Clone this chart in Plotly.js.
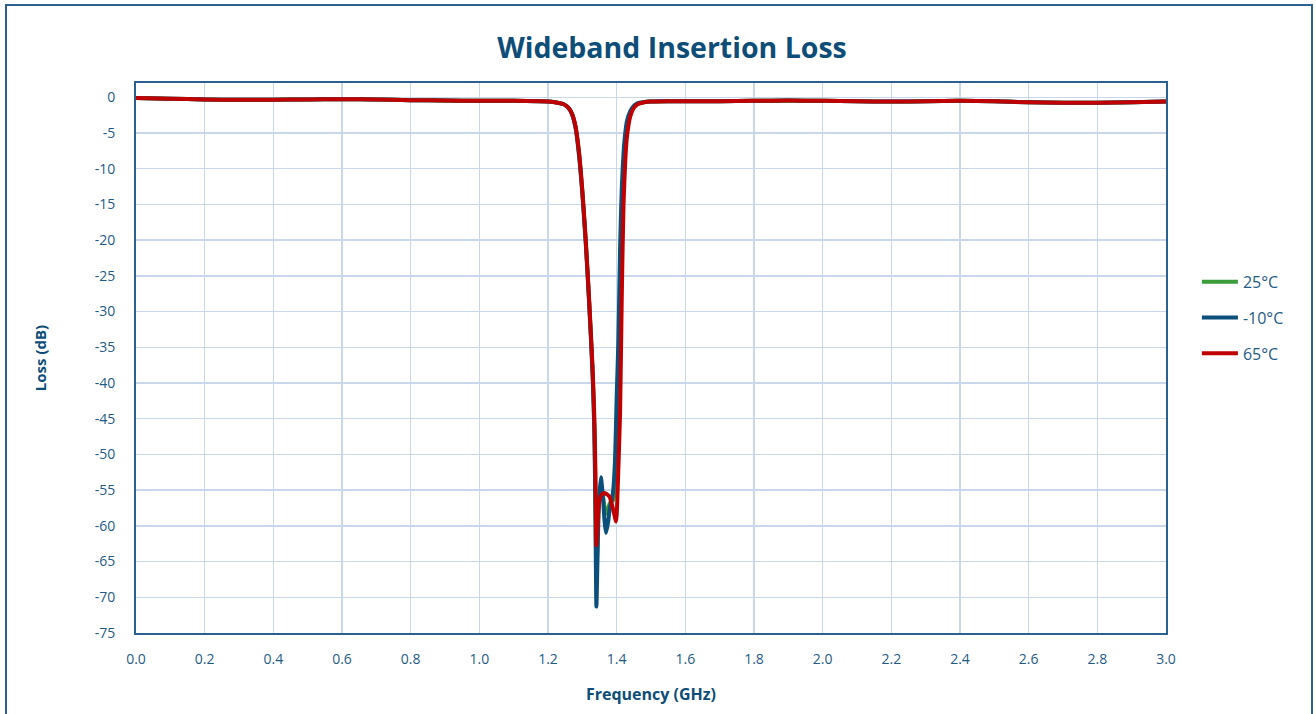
<!DOCTYPE html>
<html>
<head>
<meta charset="utf-8">
<script src="https://cdn.plot.ly/plotly-3.0.1.min.js"></script>
<style>
  html, body { margin: 0; padding: 0; background: #ffffff; }
  #frame { position: absolute; left: 5px; top: 4px; width: 1308px; height: 720px; border: 2px solid #2a6190; box-sizing: border-box; }
  #chart { position: absolute; left: 0; top: 0; width: 1316px; height: 714px; }
</style>
</head>
<body>
<div id="frame"></div>
<div id="chart"></div>
<script>
// Frequency (GHz)
const freq = [0.0, 0.1, 0.2, 0.3, 0.4, 0.5, 0.6, 0.7, 0.8, 0.9, 1.0, 1.1, 1.2, 1.22, 1.24, 1.25, 1.26, 1.27, 1.28, 1.29, 1.30, 1.31, 1.32, 1.33, 1.335, 1.338, 1.341, 1.344, 1.348, 1.354, 1.36, 1.365, 1.369, 1.375, 1.38, 1.385, 1.39, 1.395, 1.398, 1.40, 1.405, 1.41, 1.415, 1.42, 1.425, 1.43, 1.44, 1.45, 1.46, 1.48, 1.5, 1.55, 1.6, 1.7, 1.8, 1.9, 2.0, 2.1, 2.2, 2.3, 2.4, 2.5, 2.6, 2.7, 2.8, 2.9, 3.0];

// Loss (dB) per temperature
const loss25 = [-0.1, -0.2, -0.3, -0.35, -0.35, -0.3, -0.28, -0.3, -0.4, -0.45, -0.5, -0.5, -0.6, -0.7, -0.9, -1.1, -1.5, -2.3, -4.1, -7.7, -13.2, -20.2, -28.7, -38.5, -46, -55, -67, -62.5, -57, -54.5, -55.8, -57.5, -58.3, -57.6, -56.8, -56.6, -56.4, -55, -53, -50, -44, -33, -20, -11, -7, -4.4, -2.2, -1.3, -0.9, -0.7, -0.6, -0.55, -0.55, -0.55, -0.5, -0.45, -0.5, -0.55, -0.6, -0.55, -0.5, -0.55, -0.7, -0.75, -0.75, -0.7, -0.6];
const lossM10 = [-0.1, -0.2, -0.3, -0.35, -0.35, -0.3, -0.28, -0.3, -0.4, -0.45, -0.5, -0.5, -0.6, -0.7, -0.9, -1.1, -1.5, -2.4, -4.2, -8.0, -13.5, -20.5, -29, -39, -47, -58, -71.3, -65, -57, -53.2, -56, -59.5, -61, -59.5, -57.5, -56.5, -55, -51, -46, -42, -34, -21, -12.5, -7.8, -5, -3.3, -1.9, -1.2, -0.85, -0.65, -0.6, -0.55, -0.55, -0.55, -0.5, -0.45, -0.5, -0.55, -0.6, -0.55, -0.5, -0.55, -0.7, -0.75, -0.75, -0.7, -0.6];
const loss65 = [-0.1, -0.2, -0.3, -0.35, -0.35, -0.3, -0.28, -0.3, -0.4, -0.45, -0.5, -0.5, -0.6, -0.7, -0.9, -1.1, -1.5, -2.3, -4.0, -7.5, -13, -20, -28.5, -38, -45, -52, -62.7, -60, -57, -55.8, -55.5, -55.4, -55.5, -55.7, -56, -56.8, -57.8, -58.8, -59.4, -58.5, -52, -44, -27.5, -15, -9, -5.5, -2.6, -1.5, -1.0, -0.7, -0.6, -0.55, -0.55, -0.55, -0.5, -0.45, -0.5, -0.55, -0.6, -0.55, -0.5, -0.55, -0.7, -0.75, -0.75, -0.7, -0.6];

const seriesNames = ['25°C', '-10°C', '65°C'];
const seriesColors = ['#3a9d3a', '#0b4f7a', '#c00000'];
const seriesData = [loss25, lossM10, loss65];

const xTickVals = [0.0, 0.2, 0.4, 0.6, 0.8, 1.0, 1.2, 1.4, 1.6, 1.8, 2.0, 2.2, 2.4, 2.6, 2.8, 3.0];
const xTickText = ['0.0', '0.2', '0.4', '0.6', '0.8', '1.0', '1.2', '1.4', '1.6', '1.8', '2.0', '2.2', '2.4', '2.6', '2.8', '3.0'];
const yTickVals = [0, -5, -10, -15, -20, -25, -30, -35, -40, -45, -50, -55, -60, -65, -70, -75];
const yTickText = ['0', '-5', '-10', '-15', '-20', '-25', '-30', '-35', '-40', '-45', '-50', '-55', '-60', '-65', '-70', '-75'];

const traces = seriesData.map((ys, i) => ({
  x: freq,
  y: ys,
  type: 'scatter',
  mode: 'lines',
  name: seriesNames[i],
  legendgroup: 'g' + i,
  line: { color: seriesColors[i], width: 4, shape: 'spline', smoothing: 0.6 }
}));

const txt = '#1f5b87';
const layout = {
  width: 1316,
  height: 714,
  paper_bgcolor: 'rgba(0,0,0,0)',
  plot_bgcolor: '#ffffff',
  margin: { l: 136, r: 150, t: 83, b: 81 },
  font: { family: 'Open Sans, sans-serif', color: txt, size: 14 },
  title: {
    text: '<b>Wideband Insertion Loss</b>',
    font: { family: 'Open Sans, sans-serif', size: 28.5, color: '#0e4d78' },
    x: 672 / 1316, xref: 'container', xanchor: 'center',
    y: 1 - 48 / 714, yref: 'container', yanchor: 'middle'
  },
  xaxis: {
    range: [0, 3],
    tickvals: xTickVals,
    ticktext: xTickText,
    ticks: '',
    ticklabelstandoff: 12,
    showgrid: true,
    gridcolor: '#c8d8ea',
    gridwidth: 1.5,
    zeroline: false,
    showline: true,
    linecolor: '#2a6190',
    linewidth: 2,
    mirror: true,
    tickfont: { size: 14, color: txt },
    title: { text: '<b>Frequency (GHz)</b>', font: { size: 16, color: '#0e4d78' }, standoff: 22 }
  },
  yaxis: {
    range: [-75, 2],
    tickvals: yTickVals,
    ticktext: yTickText,
    ticks: '',
    ticklabelstandoff: 16,
    showgrid: true,
    gridcolor: '#c8d8ea',
    gridwidth: 1.5,
    zeroline: false,
    showline: true,
    linecolor: '#2a6190',
    linewidth: 2,
    mirror: true,
    tickfont: { size: 14, color: txt },
    title: { text: '<b>Loss (dB)</b>', font: { size: 15, color: '#0e4d78' }, standoff: 44 }
  },
  showlegend: true,
  legend: {
    x: 1.03, xanchor: 'left',
    y: 0.573, yanchor: 'middle',
    font: { size: 16, color: txt },
    bgcolor: 'rgba(0,0,0,0)',
    tracegroupgap: 12,
    itemwidth: 36
  }
};

Plotly.newPlot('chart', traces, layout, { displayModeBar: false, staticPlot: true });
</script>
</body>
</html>
